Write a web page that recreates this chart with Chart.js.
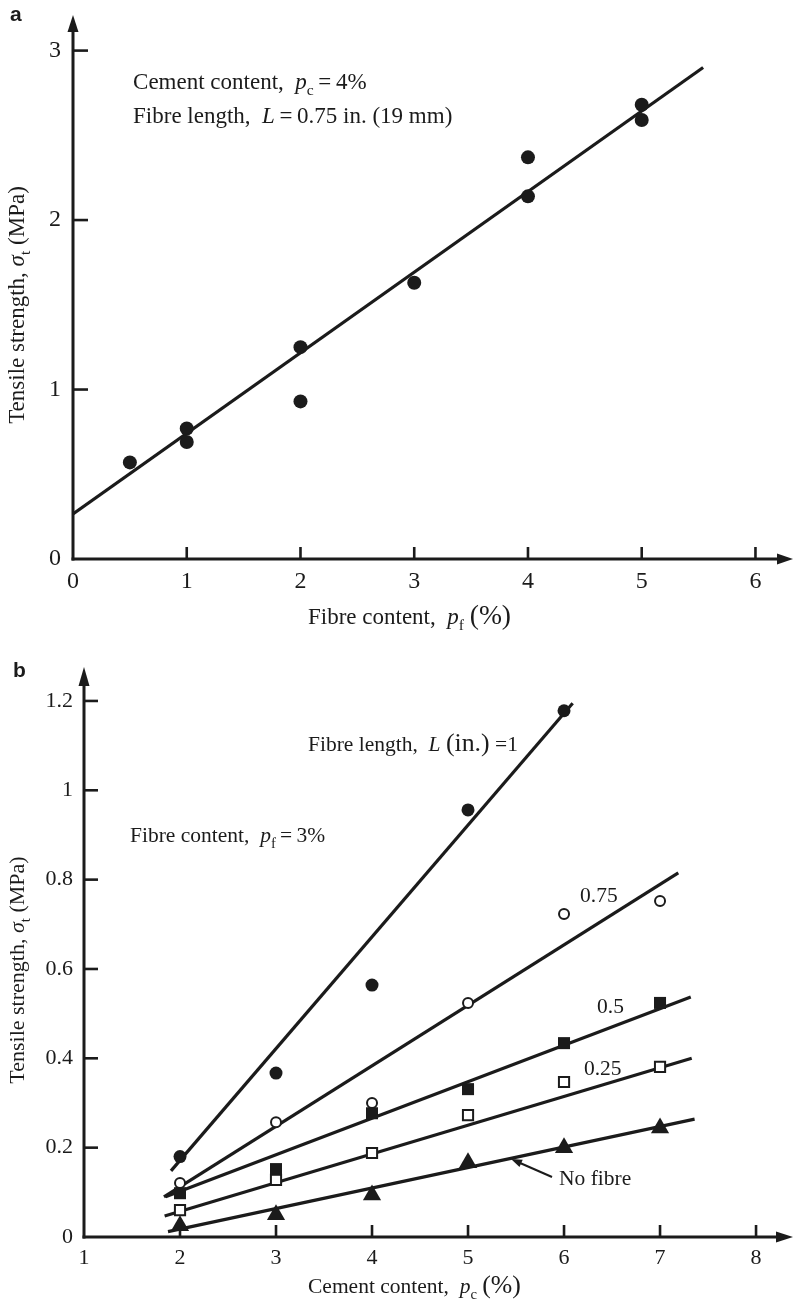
<!DOCTYPE html>
<html><head><meta charset="utf-8">
<script src="https://cdn.jsdelivr.net/npm/chart.js@4.4.1/dist/chart.umd.min.js"></script>
<style>
html,body{margin:0;padding:0;background:#fff;}
#wrap{position:relative;width:794px;height:1303px;overflow:hidden;}
canvas{position:absolute;left:0;display:block;}
</style></head><body>
<div id="wrap">
<canvas id="chartA" width="794" height="640" style="top:0px"></canvas>
<canvas id="chartB" width="794" height="663" style="top:640px"></canvas>
</div>
<script>
// ---------- Panel a data ----------
const fibreContentA = [0.5, 1, 1, 2, 2, 3, 4, 4, 5, 5];
const tensileA      = [0.57, 0.77, 0.69, 1.25, 0.93, 1.63, 2.37, 2.14, 2.68, 2.59];
const fitAx = [0, 5.54];
const fitAy = [0.266, 2.90];
const xTicksA = [0, 1, 2, 3, 4, 5, 6];
const yTicksA = [0, 1, 2, 3];

// ---------- Panel b data ----------
const cementContentB = [2, 3, 4, 5, 6, 7];
const tensileL100 = [0.18, 0.367, 0.564, 0.956, 1.178];
const tensileL075 = [0.121, 0.257, 0.30, 0.524, 0.723, 0.752];
const tensileL050 = [0.098, 0.152, 0.277, 0.331, 0.434, 0.524];
const tensileL025 = [0.060, 0.128, 0.188, 0.273, 0.347, 0.381];
const tensileNone = [0.025, 0.05, 0.094, 0.166, 0.20, 0.244];
const fitL100x = [1.906, 6.09],  fitL100y = [0.148, 1.195];
const fitL075x = [1.833, 7.19],  fitL075y = [0.09, 0.815];
const fitL050x = [1.85, 7.32],   fitL050y = [0.09, 0.537];
const fitL025x = [1.84, 7.33],   fitL025y = [0.047, 0.40];
const fitNonex = [1.875, 7.36],  fitNoney = [0.012, 0.264];
const lineLabelsB = ['0.75', '0.5', '0.25', 'No fibre'];
const xTicksB = [1, 2, 3, 4, 5, 6, 7, 8];
const yTicksB = [0, 0.2, 0.4, 0.6, 0.8, 1, 1.2];

// ---------- helpers ----------
const INK = '#1b1b1b';
const SERIF = '"Liberation Serif", "Times New Roman", serif';
const SANS = '"Liberation Sans", Arial, sans-serif';
const pts = (xs, ys) => xs.map((x, i) => ({x, y: ys[i]}));

function fontStr(size, italic, bold, fam) {
  return (italic ? 'italic ' : '') + (bold ? 'bold ' : '') + size + 'px ' + (fam || SERIF);
}
function drawRich(ctx, x, y, segs, base, opts) {
  opts = opts || {};
  ctx.save();
  ctx.translate(x, y);
  if (opts.rot) ctx.rotate(opts.rot);
  const m = segs.map(s => {
    let size = base, dy = 0;
    if (s.sub) { size = base * 0.68; dy = base * 0.27; }
    if (s.big) size = base * 1.2;
    const f = fontStr(size, s.it, s.bold, s.fam);
    ctx.font = f;
    return {t: s.t, f, dy, w: ctx.measureText(s.t).width};
  });
  const total = m.reduce((a, b) => a + b.w, 0);
  let cx = opts.align === 'center' ? -total / 2 : 0;
  ctx.fillStyle = INK; ctx.textBaseline = 'alphabetic'; ctx.textAlign = 'left';
  m.forEach(s => { ctx.font = s.f; ctx.fillText(s.t, cx, s.dy); cx += s.w; });
  ctx.restore();
}
function drawAxes(chart, o) {
  const {ctx, chartArea: ca, scales: {x, y}} = chart;
  ctx.save();
  ctx.strokeStyle = INK; ctx.fillStyle = INK; ctx.lineWidth = 3; ctx.lineCap = 'butt';
  const ox = ca.left, oy = ca.bottom;
  ctx.beginPath(); ctx.moveTo(ox, oy + 1.5); ctx.lineTo(ox, ca.top + o.yArrow - 2); ctx.stroke();
  ctx.beginPath(); ctx.moveTo(ox, ca.top); ctx.lineTo(ox - 5.5, ca.top + o.yArrow); ctx.lineTo(ox + 5.5, ca.top + o.yArrow); ctx.closePath(); ctx.fill();
  ctx.beginPath(); ctx.moveTo(ox - 1.5, oy); ctx.lineTo(ca.right - o.xArrow + 2, oy); ctx.stroke();
  ctx.beginPath(); ctx.moveTo(ca.right, oy); ctx.lineTo(ca.right - o.xArrow, oy - 5.5); ctx.lineTo(ca.right - o.xArrow, oy + 5.5); ctx.closePath(); ctx.fill();
  ctx.lineWidth = 2.6;
  y.ticks.forEach(t => { if (t.value === y.min) return; const p = y.getPixelForValue(t.value);
    ctx.beginPath(); ctx.moveTo(ox, p); ctx.lineTo(ox + o.yTick, p); ctx.stroke(); });
  x.ticks.forEach(t => { if (t.value === x.min) return; const p = x.getPixelForValue(t.value);
    ctx.beginPath(); ctx.moveTo(p, oy); ctx.lineTo(p, oy - o.xTick); ctx.stroke(); });
  ctx.restore();
}
function axisCfg(min, max, tickVals, size, padding, fit) {
  return {
    type: 'linear', min, max,
    grid: {display: false, drawTicks: false}, border: {display: false},
    afterBuildTicks: s => { s.ticks = tickVals.map(v => ({value: v})); },
    afterFit: fit,
    ticks: {padding, color: INK, font: {family: SERIF, size}, callback: v => String(+(+v).toFixed(2))}
  };
}
const common = (padTop) => ({
  responsive: false, animation: false, events: [],
  layout: {autoPadding: false, padding: {top: padTop, right: 1, bottom: 0, left: 0}},
  plugins: {legend: {display: false}, tooltip: {enabled: false}}
});

// ---------- Chart a ----------
new Chart(document.getElementById('chartA'), {
  type: 'scatter',
  data: {datasets: [
    {data: pts(fibreContentA, tensileA), pointStyle: 'circle', pointRadius: 7, backgroundColor: INK, borderWidth: 0, order: 0},
    {data: pts(fitAx, fitAy), showLine: true, pointRadius: 0, borderColor: INK, borderWidth: 3.2, order: 1}
  ]},
  options: Object.assign(common(15), {
    scales: {
      x: axisCfg(0, 6.33, xTicksA, 24, 8, s => { s.height = 81; s.paddingLeft = 0; s.paddingRight = 0; }),
      y: axisCfg(0, 3.21, yTicksA, 24, 12, s => { s.width = 73; s.paddingTop = 0; s.paddingBottom = 0; })
    }
  }),
  plugins: [{id: 'decorA', afterDraw(chart) {
    const {ctx, scales: {x, y}} = chart;
    drawAxes(chart, {yArrow: 17, xArrow: 16, yTick: 15, xTick: 12});
    drawRich(ctx, 10, 21, [{t: 'a', bold: true, fam: SANS}], 21);
    drawRich(ctx, x.getPixelForValue(0.528), y.getPixelForValue(2.773),
      [{t: 'Cement content,  '}, {t: 'p', it: true}, {t: 'c', sub: true}, {t: '\u2009=\u20094%'}], 23);
    drawRich(ctx, x.getPixelForValue(0.528), y.getPixelForValue(2.573),
      [{t: 'Fibre length,  '}, {t: 'L', it: true}, {t: '\u2009=\u20090.75 in. (19 mm)'}], 23);
    drawRich(ctx, 308, 624,
      [{t: 'Fibre content,  '}, {t: 'p', it: true}, {t: 'f', sub: true}, {t: ' '}, {t: '(%)', big: true}], 23);
    drawRich(ctx, 24, 305,
      [{t: 'Tensile strength, '}, {t: '\u03C3', it: true}, {t: 't', sub: true}, {t: ' (MPa)'}], 23,
      {rot: -Math.PI / 2, align: 'center'});
  }}]
});

// ---------- Chart b ----------
new Chart(document.getElementById('chartB'), {
  type: 'scatter',
  data: {datasets: [
    {data: pts(cementContentB, tensileL100), pointStyle: 'circle', pointRadius: 6.5, backgroundColor: INK, borderWidth: 0, order: 0},
    {data: pts(cementContentB, tensileL075), pointStyle: 'circle', pointRadius: 5, backgroundColor: '#fff', borderColor: INK, borderWidth: 2, order: 0},
    {data: pts(cementContentB, tensileL050), pointStyle: 'rect', pointRadius: 8.5, backgroundColor: INK, borderWidth: 0, order: 0},
    {data: pts(cementContentB, tensileL025), pointStyle: 'rect', pointRadius: 7.2, backgroundColor: '#fff', borderColor: INK, borderWidth: 2, order: 0},
    {data: pts(cementContentB, tensileNone), pointStyle: 'triangle', pointRadius: 10.5, backgroundColor: INK, borderWidth: 0, order: 0},
    {data: pts(fitL100x, fitL100y), showLine: true, pointRadius: 0, borderColor: INK, borderWidth: 3.2, order: 1},
    {data: pts(fitL075x, fitL075y), showLine: true, pointRadius: 0, borderColor: INK, borderWidth: 3.2, order: 1},
    {data: pts(fitL050x, fitL050y), showLine: true, pointRadius: 0, borderColor: INK, borderWidth: 3.2, order: 1},
    {data: pts(fitL025x, fitL025y), showLine: true, pointRadius: 0, borderColor: INK, borderWidth: 3.2, order: 1},
    {data: pts(fitNonex, fitNoney), showLine: true, pointRadius: 0, borderColor: INK, borderWidth: 3.2, order: 1}
  ]},
  options: Object.assign(common(27), {
    scales: {
      x: axisCfg(1, 8.385, xTicksB, 22, 8, s => { s.height = 66; s.paddingLeft = 0; s.paddingRight = 0; }),
      y: axisCfg(0, 1.276, yTicksB, 22, 11, s => { s.width = 84; s.paddingTop = 0; s.paddingBottom = 0; })
    }
  }),
  plugins: [{id: 'decorB', afterDraw(chart) {
    const {ctx, scales: {x, y}} = chart;
    drawAxes(chart, {yArrow: 19, xArrow: 17, yTick: 14, xTick: 12});
    drawRich(ctx, 13, 37, [{t: 'b', bold: true, fam: SANS}], 21);
    drawRich(ctx, x.getPixelForValue(3.333), y.getPixelForValue(1.088),
      [{t: 'Fibre length,  '}, {t: 'L', it: true}, {t: ' '}, {t: '(in.)', big: true}, {t: ' =1'}], 21.5);
    drawRich(ctx, x.getPixelForValue(1.479), y.getPixelForValue(0.884),
      [{t: 'Fibre content,  '}, {t: 'p', it: true}, {t: 'f', sub: true}, {t: '\u2009=\u20093%'}], 21.5);
    const lp = [[6.167, 0.750], [6.344, 0.5015], [6.208, 0.3627], [5.948, 0.1164]];
    lineLabelsB.forEach((t, i) => drawRich(ctx, x.getPixelForValue(lp[i][0]), y.getPixelForValue(lp[i][1]), [{t}], 21.5));
    // pointer arrow for "No fibre"
    const x0 = x.getPixelForValue(5.875), y0 = y.getPixelForValue(0.1343);
    const x1 = x.getPixelForValue(5.448), y1 = y.getPixelForValue(0.1746);
    const ang = Math.atan2(y1 - y0, x1 - x0);
    ctx.save(); ctx.strokeStyle = INK; ctx.fillStyle = INK; ctx.lineWidth = 2;
    ctx.beginPath(); ctx.moveTo(x0, y0); ctx.lineTo(x1 - 8 * Math.cos(ang), y1 - 8 * Math.sin(ang)); ctx.stroke();
    ctx.beginPath(); ctx.moveTo(x1, y1);
    ctx.lineTo(x1 - 11 * Math.cos(ang) + 4 * Math.sin(ang), y1 - 11 * Math.sin(ang) - 4 * Math.cos(ang));
    ctx.lineTo(x1 - 11 * Math.cos(ang) - 4 * Math.sin(ang), y1 - 11 * Math.sin(ang) + 4 * Math.cos(ang));
    ctx.closePath(); ctx.fill(); ctx.restore();
    drawRich(ctx, 308, 653,
      [{t: 'Cement content,  '}, {t: 'p', it: true}, {t: 'c', sub: true}, {t: ' '}, {t: '(%)', big: true}], 21.5);
    drawRich(ctx, 24, 330,
      [{t: 'Tensile strength, '}, {t: '\u03C3', it: true}, {t: 't', sub: true}, {t: ' (MPa)'}], 22,
      {rot: -Math.PI / 2, align: 'center'});
  }}]
});
</script>
</body></html>
